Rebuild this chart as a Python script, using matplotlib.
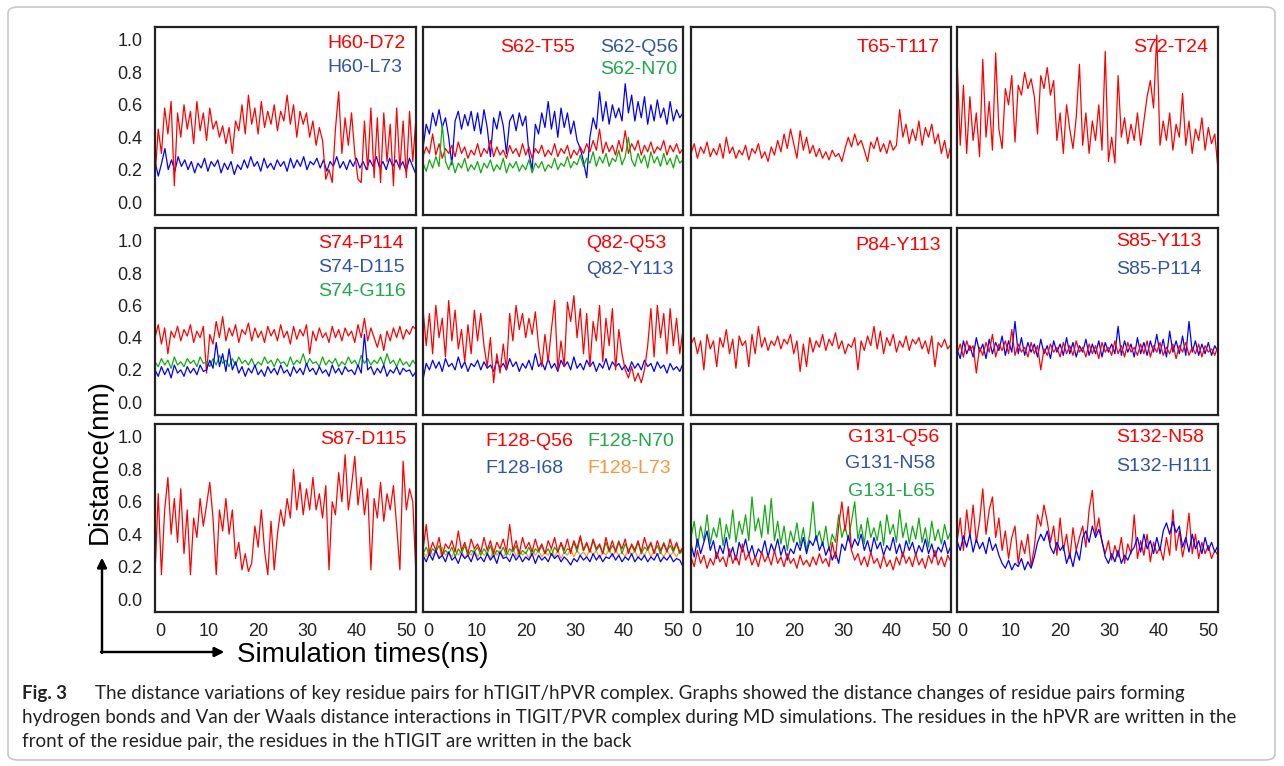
import numpy as np
import matplotlib
matplotlib.use("Agg")
import matplotlib.pyplot as plt
from matplotlib.patches import FancyBboxPatch

plt.rcParams['font.family'] = ['Liberation Sans', 'DejaVu Sans']

# ---- data (distance in nm, evenly spaced over the run) ----
h60_d72 = [0.15, 0.45, 0.30, 0.58, 0.42, 0.62, 0.10, 0.55, 0.40, 0.60, 0.45, 0.56, 0.36, 0.62, 0.44, 0.55,
           0.38, 0.58, 0.45, 0.50, 0.40, 0.47, 0.36, 0.46, 0.30, 0.50, 0.44, 0.60, 0.42, 0.66, 0.48, 0.58,
           0.42, 0.62, 0.46, 0.56, 0.48, 0.60, 0.44, 0.56, 0.50, 0.66, 0.48, 0.60, 0.40, 0.56, 0.48, 0.55,
           0.40, 0.50, 0.35, 0.46, 0.38, 0.14, 0.20, 0.12, 0.45, 0.68, 0.30, 0.52, 0.35, 0.55, 0.30, 0.14,
           0.12, 0.50, 0.20, 0.58, 0.15, 0.52, 0.12, 0.55, 0.25, 0.48, 0.10, 0.58, 0.20, 0.50, 0.15, 0.56,
           0.25, 0.52]
h60_l73 = [0.25, 0.16, 0.24, 0.33, 0.20, 0.26, 0.19, 0.28, 0.22, 0.26, 0.20, 0.25, 0.18, 0.24, 0.21, 0.27,
           0.19, 0.25, 0.22, 0.26, 0.18, 0.24, 0.20, 0.25, 0.17, 0.23, 0.20, 0.26, 0.21, 0.28, 0.22, 0.25,
           0.19, 0.27, 0.21, 0.24, 0.20, 0.26, 0.22, 0.25, 0.19, 0.27, 0.21, 0.26, 0.22, 0.28, 0.20, 0.25,
           0.23, 0.27, 0.21, 0.26, 0.19, 0.25, 0.22, 0.28, 0.21, 0.25, 0.20, 0.26, 0.22, 0.27, 0.21, 0.25,
           0.20, 0.26, 0.22, 0.28, 0.21, 0.25, 0.20, 0.27, 0.22, 0.26, 0.21, 0.25, 0.19, 0.27, 0.22, 0.17]

s62_t55 = [0.28, 0.34, 0.30, 0.42, 0.29, 0.36, 0.27, 0.33, 0.30, 0.35, 0.28, 0.37, 0.30, 0.34, 0.27, 0.32,
           0.29, 0.36, 0.28, 0.33, 0.30, 0.38, 0.28, 0.34, 0.29, 0.32, 0.27, 0.35, 0.30, 0.33, 0.28, 0.36,
           0.29, 0.34, 0.27, 0.33, 0.30, 0.35, 0.28, 0.32, 0.29, 0.36, 0.28, 0.33, 0.30, 0.35, 0.27, 0.32,
           0.29, 0.34, 0.30, 0.36, 0.31, 0.38, 0.32, 0.45, 0.30, 0.37, 0.31, 0.35, 0.29, 0.38, 0.31, 0.44,
           0.30, 0.36, 0.32, 0.38, 0.29, 0.35, 0.31, 0.37, 0.30, 0.34, 0.32, 0.38, 0.29, 0.35, 0.31, 0.36,
           0.30, 0.33]
s62_q56 = [0.33, 0.48, 0.42, 0.55, 0.47, 0.57, 0.46, 0.52, 0.40, 0.23, 0.50, 0.56, 0.45, 0.54, 0.47, 0.56,
           0.44, 0.55, 0.42, 0.57, 0.46, 0.28, 0.52, 0.45, 0.56, 0.47, 0.30, 0.50, 0.54, 0.44, 0.55, 0.47,
           0.53, 0.30, 0.20, 0.48, 0.42, 0.55, 0.46, 0.62, 0.45, 0.56, 0.40, 0.58, 0.46, 0.55, 0.42, 0.50,
           0.38, 0.33, 0.25, 0.15, 0.40, 0.52, 0.45, 0.68, 0.50, 0.62, 0.48, 0.60, 0.52, 0.58, 0.50, 0.73,
           0.55, 0.66, 0.50, 0.62, 0.52, 0.65, 0.48, 0.60, 0.50, 0.63, 0.52, 0.58, 0.48, 0.62, 0.50, 0.57,
           0.52, 0.55]
s62_n70 = [0.24, 0.19, 0.26, 0.21, 0.28, 0.22, 0.48, 0.25, 0.20, 0.26, 0.18, 0.24, 0.21, 0.27, 0.19, 0.23,
           0.20, 0.25, 0.18, 0.24, 0.21, 0.26, 0.19, 0.23, 0.20, 0.27, 0.18, 0.24, 0.21, 0.25, 0.19, 0.23,
           0.20, 0.26, 0.18, 0.24, 0.21, 0.25, 0.19, 0.23, 0.21, 0.27, 0.20, 0.24, 0.22, 0.28, 0.21, 0.25,
           0.23, 0.29, 0.22, 0.27, 0.24, 0.31, 0.22, 0.28, 0.24, 0.30, 0.22, 0.27, 0.25, 0.32, 0.23, 0.28,
           0.40, 0.26, 0.22, 0.30, 0.24, 0.29, 0.21, 0.31, 0.24, 0.28, 0.22, 0.30, 0.23, 0.27, 0.21, 0.29,
           0.24, 0.26]

t65_t117 = [0.30, 0.36, 0.27, 0.34, 0.30, 0.37, 0.28, 0.33, 0.29, 0.36, 0.27, 0.40, 0.30, 0.34, 0.27, 0.32,
            0.29, 0.35, 0.26, 0.33, 0.30, 0.36, 0.27, 0.31, 0.25, 0.34, 0.29, 0.38, 0.31, 0.42, 0.33, 0.45,
            0.36, 0.27, 0.44, 0.32, 0.40, 0.30, 0.35, 0.28, 0.33, 0.27, 0.31, 0.26, 0.32, 0.28, 0.30, 0.25,
            0.33, 0.40, 0.34, 0.42, 0.35, 0.38, 0.32, 0.25, 0.37, 0.33, 0.40, 0.31, 0.36, 0.30, 0.38, 0.32,
            0.35, 0.57, 0.40, 0.48, 0.36, 0.45, 0.38, 0.50, 0.35, 0.46, 0.40, 0.48, 0.36, 0.42, 0.30, 0.38,
            0.27, 0.35]

s72_t24 = [0.90, 0.35, 0.72, 0.30, 0.65, 0.38, 0.55, 0.28, 0.88, 0.40, 0.62, 0.32, 0.92, 0.45, 0.33, 0.70,
           0.60, 0.78, 0.37, 0.72, 0.66, 0.80, 0.70, 0.76, 0.65, 0.42, 0.78, 0.70, 0.83, 0.66, 0.75, 0.38,
           0.55, 0.30, 0.60, 0.45, 0.33, 0.52, 0.85, 0.35, 0.55, 0.30, 0.50, 0.38, 0.60, 0.32, 0.93, 0.25,
           0.40, 0.24, 0.78, 0.40, 0.52, 0.36, 0.48, 0.38, 0.55, 0.35, 0.50, 0.65, 0.75, 0.58, 1.03, 0.35,
           0.50, 0.38, 0.55, 0.32, 0.48, 0.40, 0.67, 0.35, 0.50, 0.30, 0.45, 0.38, 0.52, 0.32, 0.46, 0.36,
           0.42, 0.20]

s74_p114 = [0.40, 0.48, 0.36, 0.46, 0.30, 0.44, 0.40, 0.47, 0.38, 0.45, 0.41, 0.48, 0.37, 0.44, 0.40, 0.47,
            0.18, 0.42, 0.36, 0.50, 0.40, 0.53, 0.38, 0.46, 0.41, 0.48, 0.37, 0.45, 0.42, 0.49, 0.38, 0.46,
            0.40, 0.44, 0.37, 0.47, 0.41, 0.45, 0.38, 0.48, 0.40, 0.44, 0.36, 0.47, 0.39, 0.45, 0.41, 0.48,
            0.30, 0.44, 0.38, 0.46, 0.40, 0.43, 0.37, 0.47, 0.40, 0.45, 0.38, 0.46, 0.41, 0.44, 0.37, 0.48,
            0.40, 0.52, 0.38, 0.46, 0.40, 0.34, 0.42, 0.32, 0.44, 0.38, 0.46, 0.40, 0.47, 0.39, 0.45, 0.42,
            0.47, 0.45]
s74_d115 = [0.20, 0.16, 0.22, 0.17, 0.21, 0.15, 0.23, 0.18, 0.20, 0.16, 0.22, 0.18, 0.21, 0.17, 0.23, 0.19,
            0.20, 0.26, 0.21, 0.37, 0.22, 0.30, 0.19, 0.33, 0.20, 0.25, 0.18, 0.22, 0.16, 0.21, 0.18, 0.23,
            0.17, 0.20, 0.16, 0.22, 0.18, 0.21, 0.17, 0.23, 0.18, 0.20, 0.16, 0.22, 0.18, 0.21, 0.17, 0.24,
            0.19, 0.21, 0.17, 0.22, 0.18, 0.20, 0.16, 0.23, 0.18, 0.21, 0.17, 0.22, 0.19, 0.20, 0.17, 0.23,
            0.18, 0.42, 0.20, 0.22, 0.17, 0.21, 0.18, 0.23, 0.16, 0.20, 0.18, 0.22, 0.17, 0.21, 0.19, 0.20,
            0.16, 0.19]
s74_g116 = [0.25, 0.22, 0.27, 0.23, 0.26, 0.21, 0.28, 0.23, 0.25, 0.22, 0.27, 0.24, 0.26, 0.22, 0.28, 0.24,
            0.25, 0.22, 0.27, 0.23, 0.29, 0.24, 0.26, 0.22, 0.27, 0.23, 0.28, 0.24, 0.26, 0.23, 0.27, 0.22,
            0.25, 0.23, 0.28, 0.24, 0.26, 0.22, 0.27, 0.24, 0.25, 0.22, 0.28, 0.23, 0.26, 0.24, 0.30, 0.23,
            0.27, 0.24, 0.25, 0.22, 0.28, 0.23, 0.26, 0.24, 0.27, 0.22, 0.25, 0.23, 0.28, 0.24, 0.26, 0.22,
            0.29, 0.24, 0.27, 0.23, 0.26, 0.24, 0.28, 0.23, 0.30, 0.24, 0.26, 0.22, 0.27, 0.23, 0.25, 0.22,
            0.26, 0.23]

q82_q53 = [0.58, 0.35, 0.55, 0.30, 0.60, 0.40, 0.52, 0.28, 0.63, 0.38, 0.57, 0.33, 0.45, 0.25, 0.48, 0.30,
           0.57, 0.38, 0.55, 0.35, 0.22, 0.40, 0.12, 0.30, 0.18, 0.36, 0.20, 0.55, 0.38, 0.60, 0.45, 0.55,
           0.40, 0.52, 0.42, 0.56, 0.35, 0.22, 0.42, 0.25, 0.45, 0.63, 0.20, 0.38, 0.22, 0.62, 0.50, 0.66,
           0.40, 0.58, 0.30, 0.55, 0.22, 0.50, 0.38, 0.60, 0.25, 0.52, 0.35, 0.58, 0.20, 0.45, 0.30, 0.20,
           0.15, 0.22, 0.13, 0.18, 0.12, 0.20, 0.35, 0.58, 0.28, 0.60, 0.40, 0.55, 0.30, 0.58, 0.35, 0.52,
           0.30, 0.45]
q82_y113 = [0.14, 0.24, 0.20, 0.26, 0.21, 0.25, 0.19, 0.27, 0.22, 0.24, 0.20, 0.28, 0.21, 0.25, 0.19, 0.24,
            0.22, 0.26, 0.20, 0.25, 0.21, 0.23, 0.19, 0.26, 0.21, 0.24, 0.20, 0.27, 0.22, 0.25, 0.19, 0.24,
            0.21, 0.26, 0.20, 0.30, 0.22, 0.25, 0.20, 0.27, 0.21, 0.24, 0.19, 0.26, 0.22, 0.25, 0.20, 0.28,
            0.21, 0.24, 0.20, 0.26, 0.22, 0.25, 0.19, 0.24, 0.21, 0.27, 0.20, 0.25, 0.22, 0.24, 0.20, 0.23,
            0.19, 0.25, 0.21, 0.24, 0.20, 0.26, 0.22, 0.24, 0.19, 0.25, 0.21, 0.23, 0.18, 0.24, 0.20, 0.22,
            0.19, 0.24]

p84_y113 = [0.36, 0.40, 0.30, 0.38, 0.20, 0.42, 0.33, 0.38, 0.22, 0.40, 0.34, 0.45, 0.30, 0.39, 0.21, 0.41,
            0.35, 0.38, 0.22, 0.42, 0.30, 0.47, 0.34, 0.40, 0.32, 0.38, 0.35, 0.41, 0.33, 0.39, 0.36, 0.42,
            0.30, 0.38, 0.19, 0.36, 0.22, 0.40, 0.31, 0.38, 0.34, 0.42, 0.32, 0.39, 0.35, 0.43, 0.33, 0.38,
            0.30, 0.36, 0.34, 0.40, 0.20, 0.38, 0.32, 0.41, 0.35, 0.47, 0.33, 0.44, 0.30, 0.40, 0.35, 0.42,
            0.31, 0.38, 0.34, 0.41, 0.32, 0.39, 0.36, 0.40, 0.33, 0.38, 0.30, 0.41, 0.22, 0.37, 0.34, 0.39,
            0.33, 0.36]

s85_y113 = [0.30, 0.36, 0.28, 0.38, 0.32, 0.35, 0.18, 0.34, 0.29, 0.37, 0.31, 0.42, 0.28, 0.36, 0.32, 0.38,
            0.30, 0.45, 0.29, 0.36, 0.31, 0.34, 0.28, 0.37, 0.30, 0.35, 0.20, 0.33, 0.29, 0.36, 0.31, 0.34,
            0.28, 0.37, 0.30, 0.35, 0.29, 0.38, 0.31, 0.34, 0.28, 0.36, 0.30, 0.35, 0.27, 0.37, 0.31, 0.34,
            0.29, 0.38, 0.30, 0.35, 0.28, 0.37, 0.31, 0.34, 0.29, 0.36, 0.30, 0.38, 0.28, 0.35, 0.31, 0.37,
            0.29, 0.34, 0.30, 0.36, 0.27, 0.35, 0.31, 0.37, 0.29, 0.34, 0.30, 0.36, 0.28, 0.35, 0.31, 0.33,
            0.29, 0.35]
s85_p114 = [0.33, 0.27, 0.38, 0.30, 0.35, 0.28, 0.40, 0.31, 0.36, 0.27, 0.39, 0.30, 0.37, 0.32, 0.41, 0.29,
            0.38, 0.31, 0.50, 0.30, 0.40, 0.29, 0.37, 0.31, 0.36, 0.28, 0.39, 0.30, 0.35, 0.27, 0.38, 0.31,
            0.36, 0.29, 0.40, 0.30, 0.37, 0.28, 0.35, 0.31, 0.39, 0.29, 0.36, 0.30, 0.38, 0.28, 0.37, 0.31,
            0.36, 0.30, 0.47, 0.29, 0.38, 0.31, 0.36, 0.28, 0.40, 0.30, 0.37, 0.29, 0.38, 0.31, 0.42, 0.30,
            0.39, 0.28, 0.44, 0.31, 0.38, 0.30, 0.41, 0.29, 0.50, 0.31, 0.38, 0.29, 0.36, 0.30, 0.37, 0.29,
            0.35, 0.31]

s87_d115 = [0.15, 0.65, 0.15, 0.55, 0.75, 0.40, 0.62, 0.35, 0.68, 0.28, 0.55, 0.15, 0.50, 0.38, 0.62, 0.45,
            0.58, 0.72, 0.50, 0.15, 0.55, 0.42, 0.62, 0.40, 0.55, 0.25, 0.35, 0.18, 0.28, 0.17, 0.22, 0.45,
            0.32, 0.55, 0.30, 0.15, 0.48, 0.18, 0.40, 0.55, 0.45, 0.62, 0.50, 0.80, 0.55, 0.72, 0.52, 0.68,
            0.55, 0.75, 0.55, 0.65, 0.50, 0.70, 0.18, 0.60, 0.52, 0.78, 0.60, 0.89, 0.55, 0.70, 0.88, 0.58,
            0.75, 0.52, 0.68, 0.18, 0.62, 0.50, 0.72, 0.48, 0.65, 0.55, 0.70, 0.45, 0.18, 0.85, 0.55, 0.68,
            0.60, 0.15]

f128_q56 = [0.30, 0.46, 0.28, 0.35, 0.30, 0.38, 0.27, 0.34, 0.31, 0.36, 0.29, 0.42, 0.30, 0.35, 0.28, 0.37,
            0.31, 0.34, 0.29, 0.38, 0.30, 0.36, 0.28, 0.35, 0.31, 0.37, 0.29, 0.46, 0.30, 0.36, 0.28, 0.38,
            0.31, 0.35, 0.29, 0.37, 0.30, 0.34, 0.28, 0.36, 0.31, 0.38, 0.29, 0.35, 0.30, 0.37, 0.28, 0.36,
            0.31, 0.39, 0.30, 0.35, 0.29, 0.37, 0.31, 0.34, 0.28, 0.38, 0.30, 0.36, 0.29, 0.35, 0.31, 0.37,
            0.28, 0.34, 0.30, 0.36, 0.29, 0.38, 0.31, 0.35, 0.28, 0.36, 0.30, 0.34, 0.29, 0.37, 0.30, 0.35,
            0.29, 0.32]
f128_n70 = [0.28, 0.32, 0.27, 0.31, 0.29, 0.33, 0.27, 0.30, 0.28, 0.32, 0.26, 0.31, 0.28, 0.33, 0.27, 0.30,
            0.29, 0.32, 0.27, 0.31, 0.28, 0.33, 0.26, 0.30, 0.28, 0.32, 0.27, 0.31, 0.29, 0.33, 0.27, 0.30,
            0.28, 0.32, 0.27, 0.31, 0.29, 0.33, 0.28, 0.31, 0.27, 0.32, 0.29, 0.34, 0.28, 0.31, 0.30, 0.35,
            0.29, 0.38, 0.30, 0.34, 0.29, 0.36, 0.30, 0.33, 0.28, 0.35, 0.29, 0.33, 0.30, 0.36, 0.28, 0.34,
            0.30, 0.33, 0.29, 0.35, 0.28, 0.32, 0.30, 0.34, 0.29, 0.33, 0.28, 0.35, 0.30, 0.33, 0.29, 0.34,
            0.28, 0.31]
f128_i68 = [0.27, 0.23, 0.28, 0.24, 0.30, 0.25, 0.27, 0.23, 0.29, 0.24, 0.26, 0.22, 0.28, 0.25, 0.27, 0.23,
            0.29, 0.24, 0.26, 0.23, 0.28, 0.24, 0.27, 0.22, 0.29, 0.25, 0.26, 0.23, 0.28, 0.24, 0.27, 0.23,
            0.26, 0.24, 0.28, 0.22, 0.27, 0.24, 0.26, 0.23, 0.28, 0.25, 0.27, 0.23, 0.26, 0.24, 0.21, 0.25,
            0.23, 0.27, 0.24, 0.26, 0.23, 0.28, 0.24, 0.27, 0.23, 0.26, 0.25, 0.28, 0.24, 0.27, 0.23, 0.26,
            0.24, 0.28, 0.23, 0.26, 0.24, 0.27, 0.23, 0.26, 0.24, 0.28, 0.23, 0.26, 0.24, 0.27, 0.23, 0.25,
            0.24, 0.20]
f128_l73 = [0.29, 0.26, 0.31, 0.27, 0.30, 0.25, 0.32, 0.27, 0.29, 0.26, 0.31, 0.27, 0.30, 0.25, 0.29, 0.27,
            0.31, 0.26, 0.30, 0.27, 0.29, 0.25, 0.31, 0.27, 0.30, 0.26, 0.29, 0.27, 0.32, 0.26, 0.30, 0.27,
            0.29, 0.25, 0.31, 0.27, 0.30, 0.26, 0.29, 0.27, 0.31, 0.26, 0.30, 0.25, 0.29, 0.27, 0.31, 0.26,
            0.30, 0.27, 0.29, 0.26, 0.31, 0.27, 0.30, 0.25, 0.29, 0.27, 0.31, 0.26, 0.30, 0.27, 0.29, 0.26,
            0.31, 0.27, 0.30, 0.25, 0.29, 0.27, 0.31, 0.26, 0.30, 0.27, 0.29, 0.26, 0.30, 0.27, 0.29, 0.26,
            0.30, 0.28]

g131_q56 = [0.26, 0.20, 0.30, 0.22, 0.27, 0.19, 0.25, 0.21, 0.29, 0.23, 0.26, 0.20, 0.31, 0.22, 0.27, 0.21,
            0.34, 0.24, 0.28, 0.21, 0.26, 0.20, 0.29, 0.23, 0.27, 0.21, 0.30, 0.22, 0.26, 0.20, 0.28, 0.22,
            0.25, 0.19, 0.27, 0.21, 0.24, 0.20, 0.26, 0.21, 0.28, 0.22, 0.25, 0.20, 0.35, 0.25, 0.45, 0.60,
            0.42, 0.57, 0.30, 0.24, 0.28, 0.21, 0.26, 0.20, 0.29, 0.22, 0.25, 0.19, 0.27, 0.20, 0.24, 0.18,
            0.26, 0.21, 0.29, 0.22, 0.26, 0.20, 0.28, 0.21, 0.25, 0.19, 0.27, 0.22, 0.30, 0.21, 0.26, 0.20,
            0.27, 0.23]
g131_n58 = [0.34, 0.26, 0.37, 0.28, 0.35, 0.42, 0.30, 0.36, 0.25, 0.33, 0.28, 0.38, 0.26, 0.32, 0.24, 0.35,
            0.29, 0.37, 0.27, 0.33, 0.25, 0.31, 0.28, 0.36, 0.26, 0.34, 0.29, 0.37, 0.27, 0.33, 0.24, 0.31,
            0.28, 0.35, 0.30, 0.38, 0.28, 0.36, 0.33, 0.39, 0.30, 0.35, 0.27, 0.32, 0.24, 0.29, 0.22, 0.34,
            0.30, 0.39, 0.31, 0.37, 0.33, 0.40, 0.30, 0.36, 0.28, 0.38, 0.31, 0.35, 0.27, 0.33, 0.30, 0.38,
            0.28, 0.34, 0.26, 0.36, 0.30, 0.35, 0.27, 0.33, 0.29, 0.37, 0.28, 0.34, 0.26, 0.32, 0.29, 0.36,
            0.28, 0.33]
g131_l65 = [0.38, 0.48, 0.32, 0.45, 0.36, 0.52, 0.34, 0.44, 0.38, 0.50, 0.33, 0.46, 0.37, 0.55, 0.35, 0.48,
            0.40, 0.52, 0.36, 0.63, 0.42, 0.50, 0.38, 0.58, 0.40, 0.62, 0.36, 0.48, 0.34, 0.45, 0.30, 0.42,
            0.35, 0.47, 0.33, 0.44, 0.30, 0.40, 0.60, 0.36, 0.42, 0.33, 0.45, 0.30, 0.40, 0.35, 0.52, 0.38,
            0.45, 0.36, 0.48, 0.60, 0.37, 0.46, 0.34, 0.50, 0.38, 0.44, 0.36, 0.48, 0.33, 0.52, 0.40, 0.46,
            0.35, 0.55, 0.38, 0.47, 0.34, 0.45, 0.37, 0.50, 0.35, 0.44, 0.32, 0.48, 0.36, 0.43, 0.34, 0.46,
            0.37, 0.42]

s132_n58 = [0.35, 0.50, 0.30, 0.55, 0.38, 0.58, 0.35, 0.48, 0.68, 0.40, 0.55, 0.63, 0.38, 0.50, 0.30, 0.42,
            0.25, 0.38, 0.45, 0.22, 0.36, 0.28, 0.40, 0.20, 0.32, 0.52, 0.45, 0.58, 0.48, 0.35, 0.45, 0.27,
            0.50, 0.30, 0.40, 0.25, 0.44, 0.30, 0.38, 0.45, 0.32, 0.55, 0.67, 0.40, 0.50, 0.35, 0.28, 0.36,
            0.24, 0.33, 0.26, 0.38, 0.22, 0.34, 0.28, 0.52, 0.25, 0.36, 0.27, 0.40, 0.23, 0.35, 0.28, 0.32,
            0.24, 0.38, 0.27, 0.55, 0.30, 0.42, 0.26, 0.36, 0.53, 0.28, 0.40, 0.25, 0.35, 0.28, 0.33, 0.25,
            0.30, 0.27]
s132_h111 = [0.36, 0.30, 0.39, 0.32, 0.40, 0.29, 0.37, 0.31, 0.35, 0.28, 0.38, 0.30, 0.34, 0.27, 0.22, 0.19,
             0.24, 0.18, 0.22, 0.20, 0.25, 0.18, 0.23, 0.19, 0.26, 0.35, 0.40, 0.36, 0.42, 0.32, 0.28, 0.35,
             0.30, 0.33, 0.22, 0.28, 0.20, 0.30, 0.24, 0.38, 0.42, 0.35, 0.45, 0.38, 0.43, 0.36, 0.26, 0.22,
             0.28, 0.23, 0.30, 0.22, 0.27, 0.24, 0.29, 0.32, 0.38, 0.29, 0.40, 0.31, 0.36, 0.28, 0.38, 0.30,
             0.42, 0.47, 0.40, 0.48, 0.41, 0.45, 0.32, 0.38, 0.29, 0.40, 0.31, 0.36, 0.28, 0.38, 0.30, 0.35,
             0.29, 0.33]

y_ticks = [0.0, 0.2, 0.4, 0.6, 0.8, 1.0]
x_ticks = [0, 10, 20, 30, 40, 50]
caption_lines = [
    "The distance variations of key residue pairs for hTIGIT/hPVR complex. Graphs showed the distance changes of residue pairs forming",
    "hydrogen bonds and Van der Waals distance interactions in TIGIT/PVR complex during MD simulations. The residues in the hPVR are written in the",
    "front of the residue pair, the residues in the hTIGIT are written in the back",
]

# ---- styling ----
line_col = {"r": "#ff0000", "b": "#0000ff", "g": "#11aa11", "o": "#ff9933"}
text_col = {"r": "#ff0000", "b": "#2f55a4", "g": "#1fa84a", "o": "#f7963c"}

# each panel: series in drawing order
panels = [
    [("b", h60_l73), ("r", h60_d72)],
    [("b", s62_q56), ("r", s62_t55), ("g", s62_n70)],
    [("r", t65_t117)],
    [("r", s72_t24)],
    [("r", s74_p114), ("g", s74_g116), ("b", s74_d115)],
    [("b", q82_y113), ("r", q82_q53)],
    [("r", p84_y113)],
    [("b", s85_p114), ("r", s85_y113)],
    [("r", s87_d115)],
    [("o", f128_l73), ("g", f128_n70), ("r", f128_q56), ("b", f128_i68)],
    [("g", g131_l65), ("b", g131_n58), ("r", g131_q56)],
    [("r", s132_n58), ("b", s132_h111)],
]
# pair labels: text, colour, left x and centre y in pixels
labels = [
    [("H60-D72", "r", 327, 44), ("H60-L73", "b", 327, 68)],
    [("S62-T55", "r", 500, 47), ("S62-Q56", "b", 600, 47), ("S62-N70", "g", 600, 70)],
    [("T65-T117", "r", 857, 47)],
    [("S72-T24", "r", 1133, 47)],
    [("S74-P114", "r", 318, 243), ("S74-D115", "b", 318, 267), ("S74-G116", "g", 318, 292)],
    [("Q82-Q53", "r", 586, 244), ("Q82-Y113", "b", 586, 269)],
    [("P84-Y113", "r", 855, 245)],
    [("S85-Y113", "r", 1116, 242), ("S85-P114", "b", 1116, 269)],
    [("S87-D115", "r", 320, 440)],
    [("F128-Q56", "r", 485, 441), ("F128-N70", "g", 587, 441),
     ("F128-I68", "b", 485, 468), ("F128-L73", "o", 587, 468)],
    [("G131-Q56", "r", 848, 438), ("G131-N58", "b", 845, 464), ("G131-L65", "g", 848, 492)],
    [("S132-N58", "r", 1116, 438), ("S132-H111", "b", 1116, 466)],
]

W, H = 1284, 766
col_x = [(155, 416), (423, 683), (691, 951), (957, 1218)]
row_y = [(27, 215), (228, 415), (424, 612)]

fig = plt.figure(figsize=(W / 100, H / 100), dpi=100)

# rounded frame around the whole figure + caption
frame = FancyBboxPatch((8 / W, 6 / H), 1 - 17 / W, 1 - 13 / H,
                       boxstyle="round,pad=0,rounding_size=0.008",
                       transform=fig.transFigure, fill=False,
                       edgecolor="#c8c8c8", linewidth=1.2)
fig.patches.append(frame)

for i, series in enumerate(panels):
    r, c = divmod(i, 4)
    x0, x1 = col_x[c]
    y0, y1 = row_y[r]
    ax = fig.add_axes([x0 / W, 1 - y1 / H, (x1 - x0) / W, (y1 - y0) / H])
    for key, vals in series:
        t = np.linspace(-1.0, 52.0, len(vals))
        ax.plot(t, vals, color=line_col[key], lw=0.9)
    ax.set_xlim(-1.0, 52.0)
    ax.set_ylim(-0.08, 1.08)
    ax.set_xticks(x_ticks)
    ax.set_yticks(y_ticks)
    ax.tick_params(length=0, labelsize=13, colors="#222222")
    ax.tick_params(axis="y", pad=9)
    ax.tick_params(axis="x", pad=8)
    if c != 0:
        ax.set_yticklabels([])
    else:
        ax.set_yticklabels([f"{v:.1f}" for v in y_ticks])
    if r != 2:
        ax.set_xticklabels([])
    for sp in ax.spines.values():
        sp.set_linewidth(1.6)
        sp.set_color("#222222")
    for text, key, px, py in labels[i]:
        fig.text(px / W, 1 - py / H, text, color=text_col[key], fontsize=14,
                 ha="left", va="center")

# axis titles with the corner arrows
fig.text(100 / W, 1 - 461 / H, "Distance(nm)", rotation=90, fontsize=20,
         ha="center", va="center")
fig.text(237 / W, 1 - 655 / H, "Simulation times(ns)", fontsize=20,
         ha="left", va="center")
arrow = dict(arrowstyle="-|>", color="black", lw=1.6, mutation_scale=14,
             shrinkA=0, shrinkB=0)
fig.add_artist(plt.annotate("", xy=(102, H - 558), xytext=(102, H - 653),
                            xycoords="figure pixels", textcoords="figure pixels",
                            arrowprops=arrow))
fig.add_artist(plt.annotate("", xy=(224, H - 652), xytext=(101, H - 652),
                            xycoords="figure pixels", textcoords="figure pixels",
                            arrowprops=arrow))

# caption
cap_font = ["Lato", "DejaVu Sans"]
cap_size = 13.5
fig.text(22 / W, 1 - 693 / H, "Fig. 3", fontsize=cap_size, fontweight="bold",
         family=cap_font, ha="left", va="center", color="#222222")
fig.text(95 / W, 1 - 693 / H, caption_lines[0], fontsize=cap_size, family=cap_font,
         ha="left", va="center", color="#222222")
fig.text(22 / W, 1 - 718 / H, caption_lines[1], fontsize=cap_size, family=cap_font,
         ha="left", va="center", color="#222222")
fig.text(22 / W, 1 - 742 / H, caption_lines[2], fontsize=cap_size, family=cap_font,
         ha="left", va="center", color="#222222")

fig.savefig("out.png", dpi=100)
